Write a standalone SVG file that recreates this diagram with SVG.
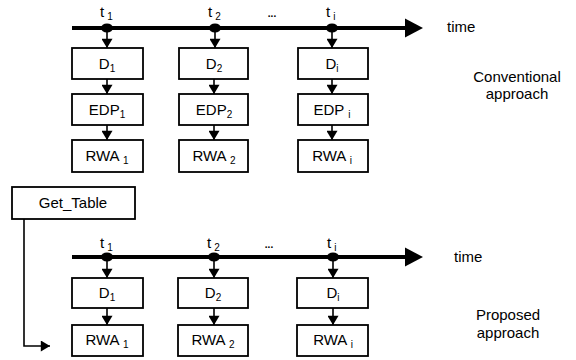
<svg xmlns="http://www.w3.org/2000/svg" width="576" height="360" viewBox="0 0 576 360">
<defs>
<style>
.box{fill:#fff;stroke:#000;stroke-width:1.8}
.t{font-family:"Liberation Sans",Arial,sans-serif;font-size:15px;fill:#000}
.c{text-anchor:middle}
.s{font-size:10px}
.dots{font-size:10px;font-weight:bold}
.tl{stroke:#000;stroke-width:4;fill:none}
.ln{stroke:#000;stroke-width:1.6;fill:none}
</style>
<marker id="ah" viewBox="0 0 10 12" refX="10" refY="6" markerWidth="12" markerHeight="11" markerUnits="userSpaceOnUse" orient="auto">
<path d="M0,0 L10,6 L0,12 Z" fill="#000"/>
</marker>
</defs>
<rect width="576" height="360" fill="#fff"/>

<g id="connectors">
<line class="tl" x1="72" y1="28" x2="406" y2="28"/>
<path d="M405,18.5 L423,28 L405,37.5 Z" fill="#000"/>
<line class="tl" x1="72" y1="257" x2="406" y2="257"/>
<path d="M405,247.5 L423,257 L405,266.5 Z" fill="#000"/>
<ellipse cx="107" cy="28" rx="6" ry="4.5"/>
<ellipse cx="215" cy="28" rx="6" ry="4.5"/>
<ellipse cx="332" cy="28" rx="6" ry="4.5"/>
<ellipse cx="107" cy="257" rx="6" ry="4.5"/>
<ellipse cx="214" cy="257" rx="6" ry="4.5"/>
<ellipse cx="333" cy="257" rx="6" ry="4.5"/>
<line class="ln" x1="107" y1="30" x2="107" y2="48" marker-end="url(#ah)"/>
<line class="ln" x1="215" y1="30" x2="215" y2="48" marker-end="url(#ah)"/>
<line class="ln" x1="332" y1="30" x2="332" y2="48" marker-end="url(#ah)"/>
<line class="ln" x1="107" y1="79" x2="107" y2="94" marker-end="url(#ah)"/>
<line class="ln" x1="214" y1="79" x2="214" y2="94" marker-end="url(#ah)"/>
<line class="ln" x1="332" y1="79" x2="332" y2="94" marker-end="url(#ah)"/>
<line class="ln" x1="107" y1="125" x2="107" y2="140" marker-end="url(#ah)"/>
<line class="ln" x1="214" y1="125" x2="214" y2="140" marker-end="url(#ah)"/>
<line class="ln" x1="332" y1="125" x2="332" y2="140" marker-end="url(#ah)"/>
<line class="ln" x1="107" y1="259" x2="107" y2="278" marker-end="url(#ah)"/>
<line class="ln" x1="214" y1="259" x2="214" y2="278" marker-end="url(#ah)"/>
<line class="ln" x1="333" y1="259" x2="333" y2="278" marker-end="url(#ah)"/>
<line class="ln" x1="107" y1="308" x2="107" y2="325" marker-end="url(#ah)"/>
<line class="ln" x1="214" y1="308" x2="214" y2="325" marker-end="url(#ah)"/>
<line class="ln" x1="333" y1="308" x2="333" y2="325" marker-end="url(#ah)"/>
<polyline class="ln" points="24,219 24,346 50,346" marker-end="url(#ah)"/>
</g>

<g id="labels">
<text class="t" x="100" y="17">t<tspan class="s" dx="3" dy="3">1</tspan></text>
<text class="t" x="208" y="17">t<tspan class="s" dx="3" dy="3">2</tspan></text>
<text class="t" x="326" y="17">t<tspan class="s" dx="3" dy="3">i</tspan></text>
<text class="t c dots" x="272" y="17">...</text>
<text class="t" x="447" y="32">time</text>
<text class="t c" x="517" y="82">Conventional</text>
<text class="t c" x="517" y="99">approach</text>
<text class="t" x="100" y="248">t<tspan class="s" dx="3" dy="3">1</tspan></text>
<text class="t" x="207" y="248">t<tspan class="s" dx="3" dy="3">2</tspan></text>
<text class="t" x="327" y="248">t<tspan class="s" dx="3" dy="3">i</tspan></text>
<text class="t c dots" x="269" y="248">...</text>
<text class="t" x="454" y="262">time</text>
<text class="t c" x="508" y="320">Proposed</text>
<text class="t c" x="508" y="338">approach</text>
</g>

<g id="D1a"><rect class="box" x="72" y="48" width="71" height="31"/><text class="t c" x="107" y="69">D<tspan class="s" dy="3">1</tspan></text></g>
<g id="D2a"><rect class="box" x="179" y="48" width="69" height="31"/><text class="t c" x="214" y="69">D<tspan class="s" dy="3">2</tspan></text></g>
<g id="Dia"><rect class="box" x="298" y="48" width="70" height="31"/><text class="t c" x="332" y="69">D<tspan class="s" dy="3">i</tspan></text></g>
<g id="EDP1"><rect class="box" x="72" y="94" width="71" height="31"/><text class="t c" x="107" y="115">EDP<tspan class="s" dy="3">1</tspan></text></g>
<g id="EDP2"><rect class="box" x="179" y="94" width="69" height="31"/><text class="t c" x="214" y="115">EDP<tspan class="s" dy="3">2</tspan></text></g>
<g id="EDPi"><rect class="box" x="298" y="94" width="70" height="31"/><text class="t c" x="332" y="115">EDP <tspan class="s" dy="3">i</tspan></text></g>
<g id="RWA1a"><rect class="box" x="72" y="140" width="71" height="32"/><text class="t c" x="107" y="161">RWA <tspan class="s" dy="3">1</tspan></text></g>
<g id="RWA2a"><rect class="box" x="179" y="140" width="69" height="32"/><text class="t c" x="214" y="161">RWA <tspan class="s" dy="3">2</tspan></text></g>
<g id="RWAia"><rect class="box" x="298" y="140" width="70" height="32"/><text class="t c" x="332" y="161">RWA <tspan class="s" dy="3">i</tspan></text></g>

<g id="GetTable"><rect class="box" x="12" y="187" width="123" height="32"/><text class="t c" x="73" y="208">Get_Table</text></g>

<g id="D1b"><rect class="box" x="72" y="278" width="71" height="30"/><text class="t c" x="107" y="298">D<tspan class="s" dy="3">1</tspan></text></g>
<g id="D2b"><rect class="box" x="178" y="278" width="70" height="30"/><text class="t c" x="213" y="298">D<tspan class="s" dy="3">2</tspan></text></g>
<g id="Dib"><rect class="box" x="297" y="278" width="71" height="30"/><text class="t c" x="333" y="298">D<tspan class="s" dy="3">i</tspan></text></g>
<g id="RWA1b"><rect class="box" x="72" y="325" width="71" height="31"/><text class="t c" x="107" y="345">RWA <tspan class="s" dy="3">1</tspan></text></g>
<g id="RWA2b"><rect class="box" x="178" y="325" width="70" height="31"/><text class="t c" x="213" y="345">RWA <tspan class="s" dy="3">2</tspan></text></g>
<g id="RWAib"><rect class="box" x="297" y="325" width="71" height="31"/><text class="t c" x="333" y="345">RWA <tspan class="s" dy="3">i</tspan></text></g>
</svg>
